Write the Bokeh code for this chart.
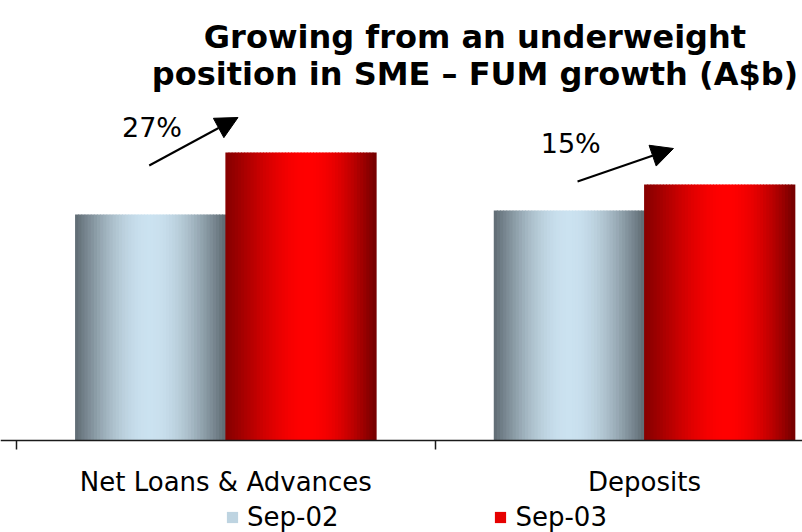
import numpy as np
from bokeh.plotting import figure
from bokeh.models import (ColumnDataSource, Range1d, LinearAxis, FixedTicker,
                          Arrow, NormalHead, Legend, LegendItem)
from bokeh.core.properties import value
from bokeh.embed import file_html
from bokeh.resources import INLINE

# ---------------- data ----------------
categories = ["Net Loans & Advances", "Deposits"]
series = ["Sep-02", "Sep-03"]
sep02 = [11.3, 11.5]
sep03 = [14.4, 12.8]
growth_labels = ["27%", "15%"]
title_lines = ["Growing from an underweight",
               "position in SME \u2013 FUM growth (A$b)"]

# ---------------- layout / style ----------------
W, H = 802, 532
PXX, PXY = 418.7, 20.0          # pixels per data unit
X0_CANVAS, Y0_CANVAS = 16, 440   # canvas position of category boundary -0.5 / baseline 0
BAR_W = 0.359
FONT = "DejaVu Sans"

growth_label_y = [15.65, 14.85]
arrow_start = [(-0.183, 13.75), (0.840, 12.95)]
arrow_end = [(0.029, 16.15), (1.069, 14.60)]
title_x = 0.595
title_y = [20.2, 18.35]

x_range = Range1d(-0.5 - X0_CANVAS / PXX, -0.5 + (W - X0_CANVAS) / PXX)
y_range = Range1d(-(H - Y0_CANVAS) / PXY, Y0_CANVAS / PXY)

p = figure(width=W, height=H, x_range=x_range, y_range=y_range,
           x_axis_type=None, y_axis_type=None,
           output_backend="svg", toolbar_location=None,
           min_border=0, outline_line_color=None)
p.grid.visible = False
p.background_fill_color = "white"
p.border_fill_color = "white"


def gradient_source(vals, x_off, dark_l, light, dark_r, peak, n=48):
    xs, ws, tops, cols = [], [], [], []
    dw = BAR_W / n
    gamma = np.log(0.5) / np.log(peak)
    for i, v in enumerate(vals):
        left = i + x_off
        for k in range(n):
            t = (k + 0.5) / n
            f = np.sin(np.pi * t ** gamma)
            dark = dark_l if t < peak else dark_r
            c = tuple(int(round(d + (l - d) * f)) for d, l in zip(dark, light))
            xs.append(left + (k + 0.5) * dw)
            ws.append(dw * 1.3)
            tops.append(v)
            cols.append("#%02x%02x%02x" % c)
    return ColumnDataSource(dict(x=xs, w=ws, top=tops, color=cols))


src02 = gradient_source(sep02, -BAR_W, (94, 106, 114), (203, 226, 240),
                        (94, 106, 114), 0.5)
src03 = gradient_source(sep03, 0.0, (135, 0, 0), (255, 0, 0),
                        (115, 0, 0), 0.55)

r02 = p.vbar(x="x", width="w", top="top", bottom=0, source=src02,
             fill_color="color", line_color=None)
r03 = p.vbar(x="x", width="w", top="top", bottom=0, source=src03,
             fill_color="color", line_color=None)

# axis line with ticks at category boundaries
ax_ticks = LinearAxis(ticker=FixedTicker(ticks=[-0.5, 0.5, 1.5]),
                      fixed_location=0,
                      major_label_overrides={-0.5: "", 0.5: "", 1.5: ""},
                      axis_line_color="#1a1a1a", axis_line_width=1.5,
                      major_tick_line_color="#1a1a1a", major_tick_line_width=1.5,
                      major_tick_in=0, major_tick_out=9,
                      minor_tick_line_color=None)
p.add_layout(ax_ticks, "below")

# category labels
ax_labels = LinearAxis(ticker=FixedTicker(ticks=[0, 1]),
                       fixed_location=0,
                       major_label_overrides={i: c for i, c in enumerate(categories)},
                       axis_line_color=None, major_tick_line_color=None,
                       minor_tick_line_color=None,
                       major_label_standoff=20,
                       major_label_text_font=FONT,
                       major_label_text_font_size="26px",
                       major_label_text_color="black")
p.add_layout(ax_labels, "below")

# title
p.text(x=[title_x] * len(title_lines), y=title_y, text=title_lines,
       text_font=value(FONT), text_font_style="bold",
       text_font_size="32px", text_align="center",
       text_baseline="alphabetic", text_color="black")

# growth labels and arrows
p.text(x=[i - 0.248 for i in range(len(categories))], y=growth_label_y,
       text=growth_labels, text_font=value(FONT), text_font_size="27px",
       text_align="left", text_baseline="alphabetic", text_color="black")
for (xs, ys), (xe, ye) in zip(arrow_start, arrow_end):
    p.add_layout(Arrow(x_start=xs, y_start=ys, x_end=xe, y_end=ye,
                       line_width=2, line_color="black",
                       end=NormalHead(size=22, fill_color="black",
                                      line_color="black", line_width=1)))

# legend
legend = Legend(items=[LegendItem(label=series[0], renderers=[r02], index=16),
                       LegendItem(label=series[1], renderers=[r03], index=64)],
                orientation="horizontal", location=(225, 0),
                glyph_width=14, glyph_height=14, label_standoff=8,
                spacing=155, padding=0, margin=0,
                border_line_color=None, background_fill_alpha=0,
                label_text_font=FONT, label_text_font_size="26px",
                label_text_color="black")
p.add_layout(legend, "center")

open("out.html", "w").write(file_html(p, INLINE))
